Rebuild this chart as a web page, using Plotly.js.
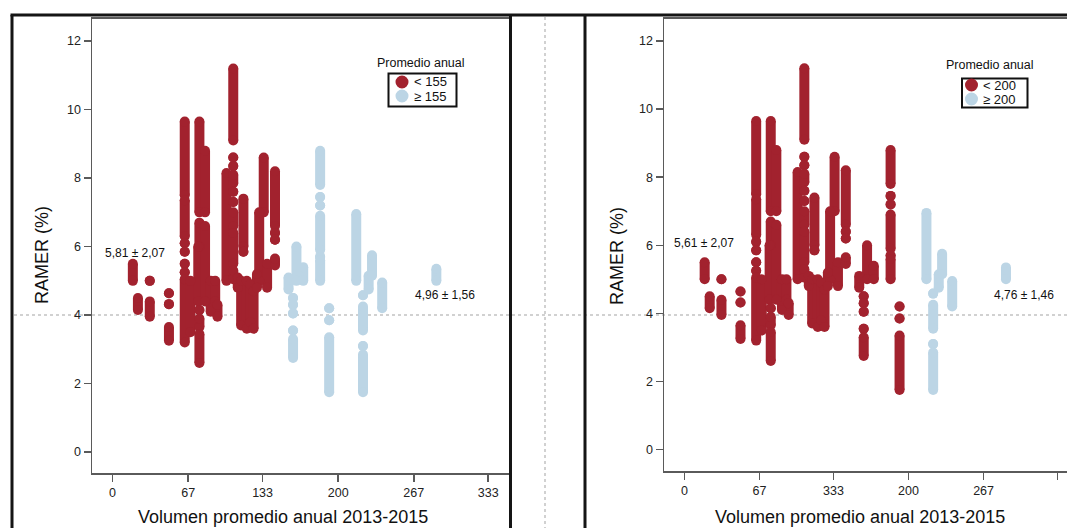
<!DOCTYPE html>
<html>
<head>
<meta charset="utf-8">
<script src="https://cdn.plot.ly/plotly-3.0.1.min.js"></script>
<style>html,body{margin:0;padding:0;background:#fff}#chart{width:1067px;height:528px}</style>
</head>
<body>
<div id="chart"></div>
<script>
// Each entry is one vertical run of points for a centre: volume (x), lowest and highest RAMER (%) of the run.
const segVolume = [18, 22.5, 33, 33, 50, 50, 50,
  64, 64, 64, 64, 64, 64, 64, 69,
  77, 77, 76, 77, 77, 77, 82, 82, 87, 91, 93,
  101, 107, 107, 107, 107, 107, 107, 107, 107, 107,
  111, 116, 116, 114, 119, 122, 125,
  134, 130, 137, 128, 144, 144, 144, 144,
  156, 163, 160, 160, 160, 160, 160, 169,
  184, 184, 184, 184, 184, 184,
  192, 192, 192,
  216, 222, 222, 222, 222, 227, 230, 239, 287];
const segLow = [5.0, 4.15, 5.0, 3.95, 4.64, 4.32, 3.25,
  7.5, 6.3, 6.1, 5.85, 5.5, 5.25, 3.2, 3.5,
  7.0, 6.0, 4.4, 4.15, 3.65, 2.6, 7.0, 4.4, 4.1, 4.4, 3.95,
  5.0, 9.1, 8.6, 8.35, 7.85, 7.6, 7.3, 6.6, 5.5, 5.05,
  4.8, 6.0, 5.85, 3.7, 3.6, 3.8, 3.6,
  7.0, 5.0, 4.8, 4.8, 6.6, 6.4, 6.2, 5.45,
  4.75, 5.0, 4.5, 4.3, 4.05, 3.55, 2.75, 5.0,
  7.8, 7.45, 7.2, 5.9, 5.7, 5.0,
  4.2, 3.85, 1.75,
  5.0, 4.58, 3.55, 3.1, 1.75, 4.75, 5.15, 4.2, 5.0];
const segHigh = [5.5, 4.5, 5.0, 4.4, 4.64, 4.32, 3.65,
  9.65, 7.35, 6.1, 5.85, 5.5, 5.25, 5.05, 5.0,
  9.65, 6.7, 6.0, 4.15, 3.9, 3.45, 8.8, 6.6, 5.0, 5.0, 4.3,
  8.15, 11.2, 8.6, 8.35, 8.1, 7.6, 7.3, 7.0, 6.4, 5.3,
  5.1, 7.4, 5.85, 5.0, 5.0, 4.9, 4.7,
  8.6, 7.0, 5.5, 5.2, 8.2, 6.4, 6.2, 5.65,
  5.1, 6.0, 4.5, 4.3, 4.05, 3.55, 3.3, 5.4,
  8.8, 7.45, 7.2, 6.9, 5.7, 5.6,
  4.2, 3.85, 3.35,
  6.95, 4.58, 4.25, 3.1, 2.85, 5.15, 5.75, 4.95, 5.35];

const xTickVals = [0, 67, 133, 200, 267, 333];
const xTickText1 = ['0', '67', '133', '200', '267', '333'];
const xTickText2 = ['0', '67', '333', '200', '267', '333'];
const yTickVals = [0, 2, 4, 6, 8, 10, 12];
const thresholds = [155, 200];
const groupLabels1 = ['< 155', '\u2265 155'];
const groupLabels2 = ['< 200', '\u2265 200'];
const statsText1 = ['5,81 \u00b1 2,07', '4,96 \u00b1 1,56'];
const statsText2 = ['5,61 \u00b1 2,07', '4,76 \u00b1 1,46'];

const RED = '#a2222e', BLUE = '#bcd5e5';
const W = 1067, H = 528;
const px = v => v / W, py = v => 1 - v / H;
const FONT = 'Liberation Sans, Arial, sans-serif';

function buildTraces(threshold, xa, ya) {
  const out = [];
  [[v => v < threshold, RED], [v => v >= threshold, BLUE]].forEach(([test, col]) => {
    const xs = [], ys = [];
    segVolume.forEach((v, i) => {
      if (!test(v)) return;
      xs.push(v, v, null);
      ys.push(segLow[i], segHigh[i], null);
    });
    out.push({type: 'scatter', mode: 'lines+markers', x: xs, y: ys, xaxis: xa, yaxis: ya,
      line: {color: col, width: 10}, marker: {color: col, size: 10, line: {width: 0}},
      showlegend: false, hoverinfo: 'skip', cliponaxis: true});
  });
  return out;
}

const data = [...buildTraces(thresholds[0], 'x', 'y'), ...buildTraces(thresholds[1], 'x2', 'y2')];

const axisCommon = {showgrid: false, zeroline: false, showline: true, linecolor: '#5a5a5a', linewidth: 1.5,
  ticks: 'outside', ticklen: 7, tickwidth: 1.5, tickcolor: '#5a5a5a',
  tickfont: {family: FONT, size: 12.5, color: '#222'}};

const black = {color: '#151515', width: 3};
const dotted = {color: '#c2c2c2', width: 1.5, dash: 'dot'};
const shapes = [
  {type: 'line', xref: 'paper', yref: 'y', x0: px(14), x1: 1, y0: 4, y1: 4, line: dotted, layer: 'below'},
  {type: 'line', xref: 'paper', yref: 'paper', x0: px(545), x1: px(545), y0: py(17), y1: 0, line: dotted, layer: 'below'},
  {type: 'line', xref: 'paper', yref: 'paper', x0: px(10.5), x1: 1, y0: py(15), y1: py(15), line: black},
  {type: 'line', xref: 'paper', yref: 'paper', x0: px(12), x1: px(12), y0: py(15), y1: 0, line: black},
  {type: 'line', xref: 'paper', yref: 'paper', x0: px(510.5), x1: px(510.5), y0: py(15), y1: 0, line: black},
  {type: 'line', xref: 'paper', yref: 'paper', x0: px(585), x1: px(585), y0: py(15), y1: 0, line: black},
  // legend boxes and keys
  {type: 'rect', xref: 'paper', yref: 'paper', x0: px(388.5), x1: px(456.5), y0: py(73.5), y1: py(106.5), line: {color: '#111', width: 2}},
  {type: 'circle', xref: 'paper', yref: 'paper', x0: px(395.5), x1: px(408.5), y0: py(75.5), y1: py(88.5), fillcolor: RED, line: {width: 0}},
  {type: 'circle', xref: 'paper', yref: 'paper', x0: px(395.5), x1: px(408.5), y0: py(89.5), y1: py(102.5), fillcolor: BLUE, line: {width: 0}},
  {type: 'rect', xref: 'paper', yref: 'paper', x0: px(962), x1: px(1027.5), y0: py(78.5), y1: py(107.5), line: {color: '#111', width: 2}},
  {type: 'circle', xref: 'paper', yref: 'paper', x0: px(965), x1: px(978), y0: py(78.5), y1: py(91.5), fillcolor: RED, line: {width: 0}},
  {type: 'circle', xref: 'paper', yref: 'paper', x0: px(965), x1: px(978), y0: py(92.5), y1: py(105.5), fillcolor: BLUE, line: {width: 0}}
];

const ann = (text, x, y, opts) => Object.assign({text, xref: 'paper', yref: 'paper', x: px(x), y: py(y),
  xanchor: 'center', yanchor: 'middle', showarrow: false, font: {family: FONT, size: 12, color: '#111'}}, opts || {});

const annotations = [
  ann('RAMER (%)', 42, 255, {textangle: -90, font: {family: FONT, size: 18, color: '#111'}}),
  ann('RAMER (%)', 617, 256, {textangle: -90, font: {family: FONT, size: 18, color: '#111'}}),
  ann('Volumen promedio anual 2013-2015', 283, 517, {font: {family: FONT, size: 18, color: '#111'}}),
  ann('Volumen promedio anual 2013-2015', 860, 517, {font: {family: FONT, size: 18, color: '#111'}}),
  ann(statsText1[0], 135, 252.5),
  ann(statsText1[1], 445, 294.5),
  ann(statsText2[0], 703.5, 243),
  ann(statsText2[1], 1023.5, 294.5),
  ann('Promedio anual', 421, 63.5, {font: {family: FONT, size: 12.5, color: '#111'}}),
  ann(groupLabels1[0], 411.5, 82, {xanchor: 'left', font: {family: FONT, size: 13, color: '#111'}}),
  ann(groupLabels1[1], 411.5, 96, {xanchor: 'left', font: {family: FONT, size: 13, color: '#111'}}),
  ann('Promedio anual', 990, 65, {font: {family: FONT, size: 12.5, color: '#111'}}),
  ann(groupLabels2[0], 981, 85, {xanchor: 'left', font: {family: FONT, size: 13, color: '#111'}}),
  ann(groupLabels2[1], 981, 99, {xanchor: 'left', font: {family: FONT, size: 13, color: '#111'}})
];

const layout = {
  width: W, height: H, margin: {l: 0, r: 0, t: 0, b: 0},
  paper_bgcolor: '#fff', plot_bgcolor: 'rgba(0,0,0,0)', showlegend: false,
  xaxis: Object.assign({}, axisCommon, {domain: [px(92), px(509)], range: [-18.2, 351.4], anchor: 'y',
    tickvals: xTickVals, ticktext: xTickText1, mirror: true}),
  yaxis: Object.assign({}, axisCommon, {domain: [py(473), py(18.5)], range: [-0.61, 12.66], anchor: 'x',
    tickvals: yTickVals, mirror: true}),
  xaxis2: Object.assign({}, axisCommon, {domain: [px(664), 1], range: [-18.3, 341.5], anchor: 'y2',
    tickvals: xTickVals, ticktext: xTickText2, mirror: true}),
  yaxis2: Object.assign({}, axisCommon, {domain: [py(471), py(18.5)], range: [-0.63, 12.66], anchor: 'x2',
    tickvals: yTickVals}),
  shapes, annotations
};

Plotly.newPlot('chart', data, layout, {staticPlot: true, displayModeBar: false});
</script>
</body>
</html>
